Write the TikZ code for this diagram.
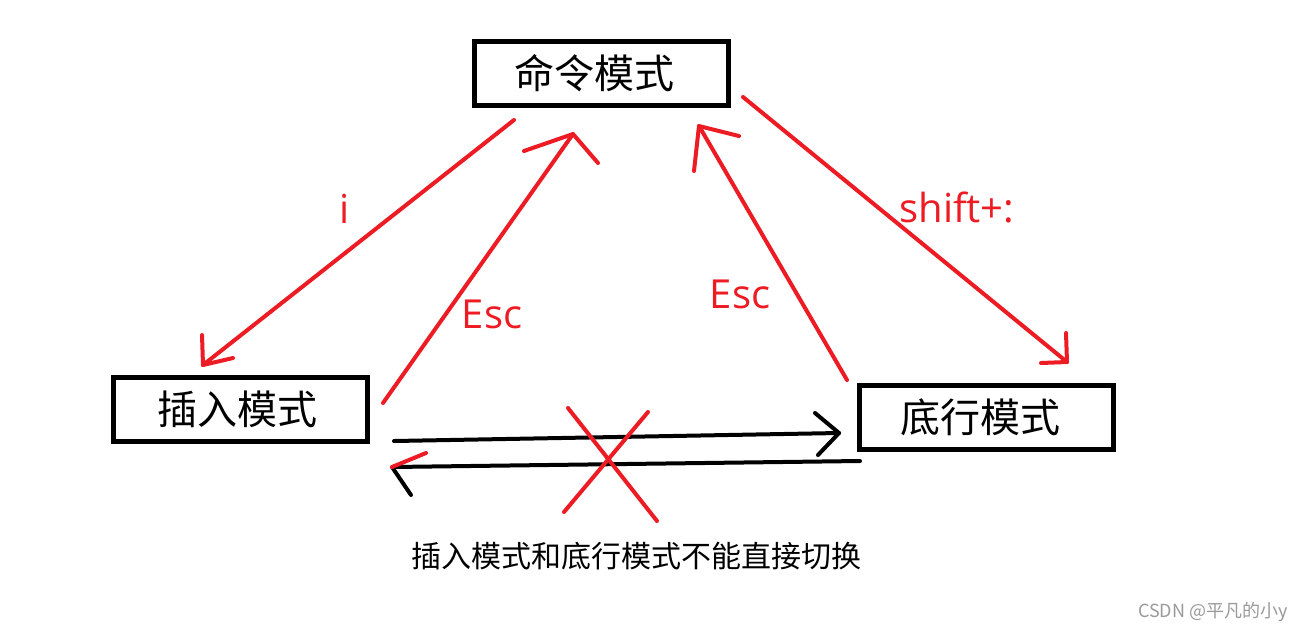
\documentclass[tikz,border=0pt]{standalone}
\usepackage{fontspec}
\setmainfont{Noto Sans CJK SC}
\newfontfamily\latinfont{Open Sans}
\definecolor{pred}{HTML}{ED1C24}
\definecolor{wmgray}{HTML}{9A9A9A}
\begin{document}
\begin{tikzpicture}[x=1pt,y=-1pt,
  box/.style={draw=black, line width=5pt, minimum width=254pt, minimum height=64pt,
    inner sep=0pt, font=\fontsize{40}{40}\selectfont, text height=35pt, text depth=5pt},
  redline/.style={draw=pred, line width=4pt, line cap=round, line join=round},
  blackline/.style={draw=black, line width=4pt, line cap=round, line join=round},
  lbl/.style={text=pred, font=\latinfont\fontsize{40}{40}\selectfont, anchor=base, inner sep=0pt},
  note/.style={font=\fontsize{30}{30}\selectfont, anchor=base, inner sep=0pt}]
\useasboundingbox[fill=white] (0,0) rectangle (1303,633);

% boxes
\node[box] (cmd) at (601.5,73) {\hspace*{-14pt}命令模式};
\node[box] (ins) at (240.5,409.5) {\hspace*{-6pt}插入模式};
\node[box] (bot) at (986.5,417) {\hspace*{-12pt}底行模式};

% coordinates for connector ends
\coordinate (iS) at (514,120);   \coordinate (iT) at (203,365);
\coordinate (iA) at (202,335);   \coordinate (iB) at (233,358);
\coordinate (eLS) at (383,403);  \coordinate (eLT) at (573,134);
\coordinate (eLA) at (524,151);  \coordinate (eLB) at (598,163);
\coordinate (eRS) at (847,380);  \coordinate (eRT) at (699,126);
\coordinate (eRA) at (694,171);  \coordinate (eRB) at (739,136);
\coordinate (sS) at (743,97);    \coordinate (sT) at (1067,362);
\coordinate (sA) at (1066,333);  \coordinate (sB) at (1041,363);
\coordinate (tS) at (394,441);   \coordinate (tT) at (839,433);
\coordinate (tA) at (815,413);   \coordinate (tB) at (818,455);
\coordinate (bS) at (860,461);   \coordinate (bT) at (392,467);
\coordinate (bA) at (411,495);   \coordinate (bB) at (426,453);
\coordinate (x1) at (568,408);   \coordinate (x2) at (657,521);
\coordinate (x3) at (648,412);   \coordinate (x4) at (564,512);

% cmd -> ins (i)
\draw[redline] (iS) -- (iT);
\draw[redline] (iA) -- (iT) -- (iB);
% ins -> cmd (Esc)
\draw[redline] (eLS) -- (eLT);
\draw[redline] (eLA) -- (eLT) -- (eLB);
% bot -> cmd (Esc)
\draw[redline] (eRS) -- (eRT);
\draw[redline] (eRA) -- (eRT) -- (eRB);
% cmd -> bot (shift+:)
\draw[redline] (sS) -- (sT);
\draw[redline] (sA) -- (sT) -- (sB);

% black arrows between ins and bot
\draw[blackline] (tS) -- (tT);
\draw[blackline] (tA) -- (tT) -- (tB);
\draw[blackline] (bS) -- (bT) -- (bA);
\draw[redline] (bT) -- (bB);

% red cross
\draw[redline] (x1) -- (x2);
\draw[redline] (x3) -- (x4);

% labels
\node[lbl] (li) at (345,223) {i};
\node[lbl] (le1) at (492,328) {Esc};
\node[lbl] (le2) at (740,308) {Esc};
\node[lbl] (ls) at (957,222) {shift+:};

\node[note] (nt) at (636,567) {插入模式和底行模式不能直接切换};
\node[font=\fontsize{18}{18}\selectfont, text=wmgray, anchor=base east, inner sep=0pt] (wm) at (1288,617) {CSDN @平凡的小y};
\end{tikzpicture}
\end{document}
